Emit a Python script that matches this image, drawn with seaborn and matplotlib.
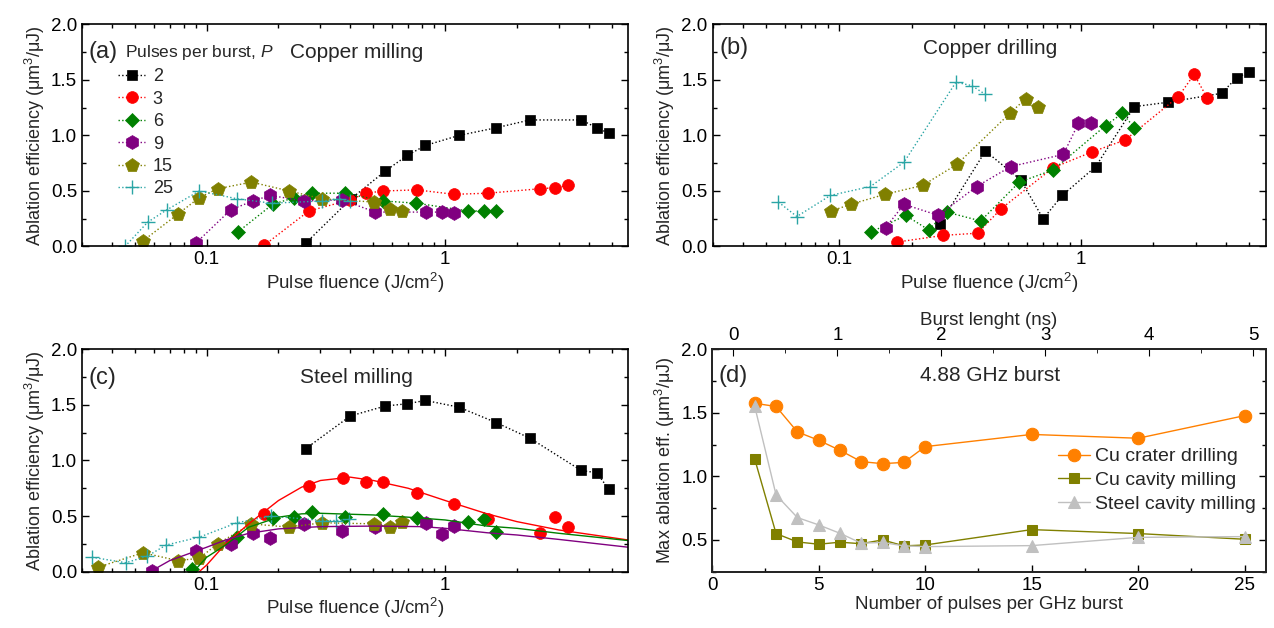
import numpy as np
import pandas as pd
import matplotlib
matplotlib.use("Agg")
import matplotlib.pyplot as plt
import matplotlib.ticker as mticker
import seaborn as sns

# ---- data ----
P_labels = ["2", "3", "6", "9", "15", "25"]
colors = ["#000000", "#ff0000", "#008000", "#800080", "#808000", "#2aa5a5"]
markers = ["s", "o", "D", "h", "p", "+"]
msizes = [7, 8.5, 7, 10, 10, 10]

# (a) copper milling
a_x = {
    "2": [0.26, 0.403, 0.561, 0.693, 0.826, 1.14, 1.64, 2.27, 3.72, 4.32, 4.86],
    "3": [0.174, 0.268, 0.40, 0.464, 0.55, 0.76, 1.09, 1.51, 2.49, 2.9, 3.26],
    "6": [0.135, 0.189, 0.233, 0.277, 0.381, 0.55, 0.758, 1.25, 1.45, 1.64],
    "9": [0.090, 0.126, 0.156, 0.185, 0.255, 0.37, 0.509, 0.832, 0.973, 1.09],
    "15": [0.054, 0.0755, 0.093, 0.111, 0.154, 0.222, 0.304, 0.505, 0.586, 0.659],
    "25": [0.0454, 0.0566, 0.068, 0.093, 0.134, 0.187, 0.305, 0.36, 0.40],
}
a_y = {
    "2": [0.03, 0.43, 0.68, 0.82, 0.91, 1.00, 1.07, 1.14, 1.14, 1.07, 1.02],
    "3": [0.01, 0.32, 0.42, 0.48, 0.50, 0.51, 0.47, 0.48, 0.52, 0.53, 0.55],
    "6": [0.13, 0.38, 0.44, 0.48, 0.48, 0.41, 0.39, 0.32, 0.32, 0.32],
    "9": [0.03, 0.33, 0.41, 0.46, 0.41, 0.42, 0.31, 0.31, 0.31, 0.30],
    "15": [0.05, 0.29, 0.44, 0.52, 0.58, 0.50, 0.43, 0.40, 0.34, 0.32],
    "25": [0.0, 0.22, 0.33, 0.50, 0.43, 0.39, 0.41, 0.43, 0.41],
}

# (b) copper drilling
b_x = {
    "2": [0.261, 0.404, 0.565, 0.70, 0.84, 1.155, 1.67, 2.31, 3.83, 4.42, 4.97],
    "3": [0.174, 0.27, 0.375, 0.469, 0.77, 1.11, 1.53, 2.54, 2.95, 3.34],
    "6": [0.136, 0.189, 0.235, 0.279, 0.386, 0.558, 0.77, 1.27, 1.49, 1.67],
    "9": [0.156, 0.186, 0.258, 0.371, 0.514, 0.849, 0.98, 1.10],
    "15": [0.0929, 0.112, 0.155, 0.222, 0.308, 0.51, 0.592, 0.665],
    "25": [0.0562, 0.067, 0.0922, 0.135, 0.186, 0.305, 0.354, 0.404],
}
b_y = {
    "2": [0.20, 0.86, 0.60, 0.25, 0.46, 0.72, 1.26, 1.30, 1.38, 1.52, 1.57],
    "3": [0.04, 0.10, 0.12, 0.34, 0.71, 0.85, 0.96, 1.35, 1.55, 1.34],
    "6": [0.13, 0.28, 0.15, 0.31, 0.23, 0.58, 0.69, 1.09, 1.20, 1.07],
    "9": [0.17, 0.38, 0.28, 0.54, 0.72, 0.83, 1.11, 1.11],
    "15": [0.32, 0.38, 0.47, 0.55, 0.74, 1.20, 1.33, 1.26],
    "25": [0.40, 0.27, 0.46, 0.54, 0.76, 1.48, 1.45, 1.37],
}

# (c) steel milling
c_x = {
    "2": [0.26, 0.40, 0.561, 0.693, 0.826, 1.14, 1.64, 2.27, 3.72, 4.32, 4.86],
    "3": [0.174, 0.268, 0.374, 0.464, 0.55, 0.76, 1.09, 1.51, 2.49, 2.9, 3.26],
    "6": [0.087, 0.134, 0.189, 0.232, 0.277, 0.381, 0.55, 0.76, 1.25, 1.45, 1.64],
    "9": [0.059, 0.09, 0.126, 0.156, 0.185, 0.255, 0.37, 0.509, 0.832, 0.973, 1.09],
    "15": [0.035, 0.054, 0.0755, 0.093, 0.111, 0.154, 0.222, 0.304, 0.505, 0.586, 0.659],
    "25": [0.033, 0.0458, 0.0564, 0.0676, 0.093, 0.134, 0.186, 0.305, 0.35, 0.394],
}
c_y = {
    "2": [1.106, 1.40, 1.49, 1.51, 1.54, 1.48, 1.34, 1.20, 0.91, 0.89, 0.74],
    "3": [0.52, 0.77, 0.84, 0.81, 0.81, 0.71, 0.61, 0.47, 0.35, 0.49, 0.40],
    "6": [0.02, 0.31, 0.48, 0.49, 0.54, 0.49, 0.52, 0.48, 0.45, 0.47, 0.36],
    "9": [0.01, 0.19, 0.25, 0.35, 0.30, 0.43, 0.37, 0.40, 0.44, 0.34, 0.41],
    "15": [0.04, 0.17, 0.10, 0.12, 0.25, 0.43, 0.40, 0.44, 0.43, 0.40, 0.45],
    "25": [0.13, 0.08, 0.14, 0.24, 0.31, 0.44, 0.50, 0.46, 0.46, 0.47],
}
# fitted curves in (c)
fit_x = {
    "3": [0.093, 0.10, 0.12, 0.15, 0.20, 0.25, 0.30, 0.40, 0.50, 0.70, 1.0, 1.5, 2.0, 3.0, 5.85],
    "6": [0.088, 0.10, 0.12, 0.15, 0.20, 0.25, 0.30, 0.50, 0.70, 1.0, 1.5, 2.0, 3.0, 5.85],
    "9": [0.059, 0.07, 0.10, 0.12, 0.15, 0.20, 0.30, 0.50, 0.80, 1.0, 1.5, 2.0, 3.0, 5.85],
}
fit_y = {
    "3": [0.0, 0.06, 0.25, 0.43, 0.64, 0.76, 0.82, 0.85, 0.82, 0.75, 0.64, 0.52, 0.45, 0.375, 0.285],
    "6": [0.0, 0.13, 0.24, 0.40, 0.49, 0.52, 0.525, 0.51, 0.49, 0.465, 0.41, 0.39, 0.345, 0.28],
    "9": [0.01, 0.10, 0.22, 0.285, 0.345, 0.385, 0.405, 0.41, 0.405, 0.39, 0.35, 0.33, 0.29, 0.22],
}

# (d) maximum ablation efficiency vs. pulses per burst
n_pulses = [2, 3, 4, 5, 6, 7, 8, 9, 10, 15, 20, 25]
cu_drill = [1.575, 1.55, 1.35, 1.284, 1.205, 1.116, 1.10, 1.11, 1.234, 1.33, 1.30, 1.478]
cu_mill = [1.135, 0.55, 0.484, 0.466, 0.482, 0.47, 0.50, 0.453, 0.46, 0.581, 0.55, 0.505]
steel_mill = [1.55, 0.854, 0.676, 0.618, 0.552, 0.474, 0.48, 0.453, 0.447, 0.455, 0.52, 0.526]
rep_rate = 4.88  # GHz

# ---- style ----
sns.set_style("ticks")
plt.rcParams["font.family"] = ["Liberation Sans", "DejaVu Sans"]
plt.rcParams["mathtext.fontset"] = "custom"
plt.rcParams["mathtext.rm"] = "Liberation Sans"
plt.rcParams["mathtext.it"] = "Liberation Sans:italic"
plt.rcParams["axes.linewidth"] = 1.2

TICK_FS = 13.5
LAB_FS = 13.5

fig = plt.figure(figsize=(12.74, 6.28), dpi=100)
ax_a = fig.add_axes([0.0644, 0.6075, 0.4286, 0.3535])
ax_b = fig.add_axes([0.5593, 0.6075, 0.4344, 0.3535])
ax_c = fig.add_axes([0.0644, 0.0897, 0.4286, 0.3541])
ax_d = fig.add_axes([0.5590, 0.0897, 0.4347, 0.3541])

ylab = "Ablation efficiency (μm$^3$/μJ)"
xlab = "Pulse fluence (J/cm$^2$)"


def style_axis(ax, log=True):
    ax.tick_params(which="both", direction="in", top=True, right=True,
                   labelsize=TICK_FS, width=1.0, colors="black")
    ax.tick_params(which="major", length=5)
    ax.tick_params(which="minor", length=3)
    for s in ax.spines.values():
        s.set_color("black")
    if log:
        ax.set_xscale("log")
        ax.set_xlim(0.03, 5.85)
        ax.xaxis.set_major_formatter(mticker.FormatStrFormatter("%g"))
        ax.xaxis.set_minor_formatter(mticker.NullFormatter())
        ax.set_ylim(0, 2.0)
        ax.yaxis.set_major_locator(mticker.MultipleLocator(0.5))
        ax.yaxis.set_minor_locator(mticker.MultipleLocator(0.25))
        ax.yaxis.set_major_formatter(mticker.FormatStrFormatter("%.1f"))
        ax.set_xlabel(xlab, fontsize=LAB_FS, labelpad=2)
        ax.set_ylabel(ylab, fontsize=13, labelpad=3)


def draw_series(ax, xs, ys, lines_for=None, legend=False):
    for lab, c, m, ms in zip(P_labels, colors, markers, msizes):
        ls = ":"
        if lines_for is not None and lab not in lines_for:
            ls = "none"
        sns.lineplot(x=xs[lab], y=ys[lab], ax=ax, color=c, linestyle=ls, lw=1.0,
                     marker=m, markersize=ms, markeredgecolor=c,
                     markerfacecolor=c, markeredgewidth=1.0 if m == "+" else 0.5,
                     sort=False, estimator=None, label=lab if legend else None,
                     legend=False)


def panel_text(ax, letter, title, y):
    ax.text(0.012, y, letter, transform=ax.transAxes, fontsize=17, va="center")
    ax.text(0.502, y, title, transform=ax.transAxes, fontsize=15,
            ha="center", va="center")


# (a)
style_axis(ax_a)
draw_series(ax_a, a_x, a_y, legend=True)
ax_a.legend(loc="upper left", bbox_to_anchor=(0.05, 0.843), frameon=False,
            fontsize=13, handlelength=1.5, handletextpad=0.4, labelspacing=0.3,
            borderpad=0.0)
ax_a.text(0.079, 0.874, "Pulses per burst, $P$", transform=ax_a.transAxes,
          fontsize=12.5, va="center")
panel_text(ax_a, "(a)", "Copper milling", 0.874)

# (b)
style_axis(ax_b)
draw_series(ax_b, b_x, b_y)
panel_text(ax_b, "(b)", "Copper drilling", 0.892)

# (c)
style_axis(ax_c)
draw_series(ax_c, c_x, c_y, lines_for=["2", "15", "25"])
for lab, c in zip(P_labels, colors):
    if lab in fit_x:
        sns.lineplot(x=fit_x[lab], y=fit_y[lab], ax=ax_c, color=c, lw=1.0,
                     sort=False, estimator=None)
panel_text(ax_c, "(c)", "Steel milling", 0.873)

# (d)
style_axis(ax_d, log=False)
sns.lineplot(x=n_pulses, y=cu_drill, ax=ax_d, color="#ff8000", lw=1.0, marker="o",
             markersize=9, markeredgecolor="#ff8000", label="Cu crater drilling",
             sort=False, estimator=None)
sns.lineplot(x=n_pulses, y=cu_mill, ax=ax_d, color="#808000", lw=1.0, marker="s",
             markersize=7, markeredgecolor="#808000", label="Cu cavity milling",
             sort=False, estimator=None)
sns.lineplot(x=n_pulses, y=steel_mill, ax=ax_d, color="#c0c0c0", lw=1.0, marker="^",
             markersize=9, markeredgecolor="#c0c0c0", label="Steel cavity milling",
             sort=False, estimator=None)
ax_d.set_xlim(0, 26)
ax_d.set_ylim(0.25, 2.0)
ax_d.xaxis.set_major_locator(mticker.MultipleLocator(5))
ax_d.xaxis.set_minor_locator(mticker.MultipleLocator(2.5))
ax_d.yaxis.set_major_locator(mticker.MultipleLocator(0.5))
ax_d.yaxis.set_minor_locator(mticker.MultipleLocator(0.25))
ax_d.yaxis.set_major_formatter(mticker.FormatStrFormatter("%.1f"))
ax_d.set_xlabel("Number of pulses per GHz burst", fontsize=LAB_FS, labelpad=2)
ax_d.set_ylabel("Max ablation eff. (μm$^3$/μJ)", fontsize=13, labelpad=3)
ax_d.legend(loc="center right", bbox_to_anchor=(1.0, 0.41), frameon=False,
            fontsize=14, handlelength=1.6, handletextpad=0.3, labelspacing=0.32,
            borderpad=0.0)
panel_text(ax_d, "(d)", "4.88 GHz burst", 0.88)

top = ax_d.twiny()
lo, hi = ax_d.get_xlim()
top.set_xlim((lo - 1) / rep_rate, (hi - 1) / rep_rate)
top.xaxis.set_major_locator(mticker.MultipleLocator(1))
top.xaxis.set_minor_locator(mticker.MultipleLocator(0.5))
top.tick_params(which="both", direction="in", labelsize=TICK_FS, colors="black")
top.tick_params(which="major", length=5)
top.tick_params(which="minor", length=3)
top.set_xlabel("Burst lenght (ns)", fontsize=LAB_FS, labelpad=2)

fig.savefig("out.png", dpi=100)
